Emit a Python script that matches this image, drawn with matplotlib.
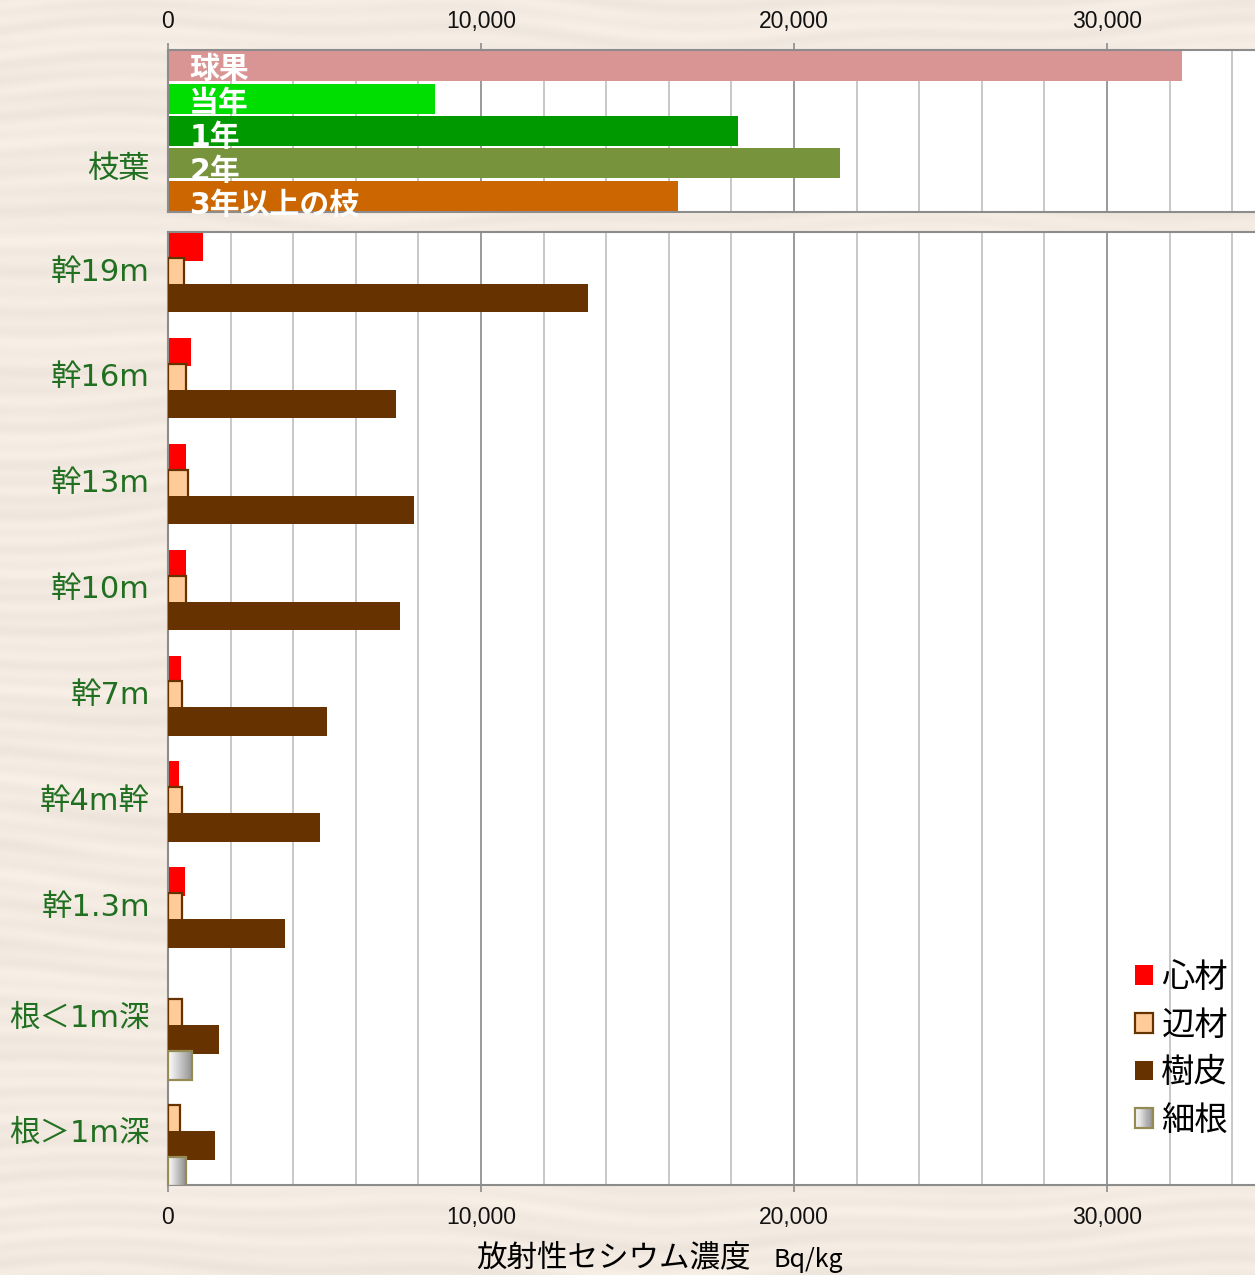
import numpy as np
import matplotlib
matplotlib.use('Agg')
import matplotlib.pyplot as plt
from matplotlib.patches import Rectangle
from matplotlib.colors import LinearSegmentedColormap
from matplotlib.legend_handler import HandlerBase

plt.rcParams['font.family'] = ['Noto Sans CJK JP', 'DejaVu Sans']
mixed_family = ['DejaVu Sans', 'Noto Sans CJK JP']

# --- data (Bq/kg) ---
leaf_labels = ['球果', '当年', '1年', '2年', '3年以上の枝']
leaf_values = [32400, 8530, 18210, 21470, 16290]
leaf_colors = ['#d99594', '#00dd00', '#009900', '#77933c', '#cc6600']

parts = ['幹19m', '幹16m', '幹13m', '幹10m', '幹7m', '幹4m幹', '幹1.3m', '根＜1m深', '根＞1m深']
heartwood = [1110, 720, 575, 575, 405, 340, 530, 0, 0]
sapwood = [510, 575, 640, 575, 450, 450, 450, 460, 395]
bark = [13420, 7280, 7860, 7410, 5070, 4870, 3730, 1620, 1490]
fine_root = [0, 0, 0, 0, 0, 0, 0, 780, 575]
series_names = ['心材', '辺材', '樹皮', '細根']

x_ticks = [0, 10000, 20000, 30000]
x_ticklabels = ['0', '10,000', '20,000', '30,000']

# --- layout ---
W, H = 1255, 1275
XMAX = 35000
x_right = 168 + XMAX * 313 / 10000  # axes run past the right edge of the picture
label_green = '#217021'
spine_gray = '#8c8c8c'
root_cmap = LinearSegmentedColormap.from_list('root', ['#ffffff', '#8e8e8e'])


def px_box(left, top, right, bottom):
    return [left / W, 1 - bottom / H, (right - left) / W, (bottom - top) / H]


fig = plt.figure(figsize=(W / 100, H / 100), dpi=100)

# wood-like background (decoration only)
bg = fig.add_axes([0, 0, 1, 1], zorder=-10)
yy, xx = np.mgrid[0:H, 0:W].astype(float)
warp = 9 * np.sin(xx / 170.0 + yy / 95.0) + 5 * np.sin(xx / 61.0 - yy / 210.0)
grain = (0.45 * np.sin((yy + warp) / 2.9) + 0.35 * np.sin((yy + 1.7 * warp) / 7.3)
         + 0.2 * np.sin((yy - warp) / 17.0))
base = np.array([243, 234, 225]) / 255.0
tex = np.clip(base[None, None, :] + 0.022 * grain[..., None], 0, 1)
bg.imshow(tex, aspect='auto', extent=(0, 1, 0, 1))
bg.axis('off')


def style_axis(ax):
    ax.set_facecolor('white')
    ax.set_xlim(0, XMAX)
    ax.set_xticks(x_ticks)
    ax.set_xticklabels(x_ticklabels, family=['Liberation Sans'], fontsize=16.5, color='#111111')
    ax.set_xticks(np.arange(0, XMAX + 1, 2000), minor=True)
    ax.grid(True, which='minor', axis='x', color='#c8c8c8', lw=1.4, zorder=0)
    ax.grid(True, which='major', axis='x', color='#9a9a9a', lw=1.4, zorder=0)
    ax.set_axisbelow(True)
    ax.tick_params(axis='x', which='major', length=5, width=1.2, color=spine_gray)
    ax.tick_params(axis='x', which='minor', length=0)
    ax.tick_params(axis='y', length=0, pad=13, labelsize=22, labelcolor=label_green)
    for sp in ax.spines.values():
        sp.set_color(spine_gray)
        sp.set_linewidth(1.5)


# --- top panel: 枝葉 ---
ax1 = fig.add_axes(px_box(168, 50, x_right, 212))
style_axis(ax1)
ax1.xaxis.tick_top()
ax1.tick_params(axis='x', which='major', pad=7)
ax1.barh(np.arange(len(leaf_values)), leaf_values, height=0.92, color=leaf_colors, zorder=2)
ax1.set_ylim(len(leaf_values) - 0.5, -0.5)
ax1.set_yticks([3.05])
ax1.set_yticklabels(['枝葉'], fontsize=22.5)
for i, lab in enumerate(leaf_labels):
    ax1.text(680, i + 0.1 + 0.05 * i, lab, color='white', fontsize=21.5, fontweight='bold',
             family=mixed_family, va='center', ha='left', clip_on=False, zorder=5)

# --- bottom panel: 幹・根 ---
ax2 = fig.add_axes(px_box(168, 232, x_right, 1185))
style_axis(ax2)
ax2.tick_params(axis='x', which='major', pad=10)
y = np.arange(len(parts))
slot, bh = 0.245, 0.27


def centers(k):
    return y - 0.5 + 0.135 + k * slot


ax2.barh(centers(0), heartwood, height=bh, color='#ff0000', zorder=2)
ax2.barh(centers(1), sapwood, height=bh, color='#ffcc99', edgecolor='#663300', lw=1.6, zorder=3)
ax2.barh(centers(2), bark, height=bh, color='#663300', zorder=4)
grad = np.linspace(0, 1, 128)[None, :]
for yc, v in zip(centers(3), fine_root):
    if v <= 0:
        continue
    ax2.imshow(grad, cmap=root_cmap, extent=(0, v, yc + bh / 2, yc - bh / 2),
               aspect='auto', interpolation='bilinear', zorder=5)
    ax2.add_patch(Rectangle((0, yc - bh / 2), v, bh, facecolor='none',
                            edgecolor='#948a54', lw=1.6, zorder=6))
ax2.set_xlim(0, XMAX)
ax2.set_ylim(len(parts) - 0.5, -0.5)
label_shift = np.array([-0.15] * 7 + [-0.1, -0.02])
ax2.set_yticks(y + label_shift)
ax2.set_yticklabels(parts, family=mixed_family)


class GradientHandler(HandlerBase):
    def create_artists(self, legend, orig_handle, xdescent, ydescent, width, height, fontsize, trans):
        n = 16
        arts = [Rectangle((-xdescent + j * width / n, -ydescent), width / n + 0.3, height,
                          facecolor=root_cmap(j / (n - 1)), edgecolor='none', transform=trans)
                for j in range(n)]
        arts.append(Rectangle((-xdescent, -ydescent), width, height, facecolor='none',
                              edgecolor='#948a54', lw=1.6, transform=trans))
        return arts


handles = [Rectangle((0, 0), 1, 1, facecolor='#ff0000', edgecolor='none'),
           Rectangle((0, 0), 1, 1, facecolor='#ffcc99', edgecolor='#663300', lw=1.6),
           Rectangle((0, 0), 1, 1, facecolor='#663300', edgecolor='none'),
           Rectangle((0, 0), 1, 1, facecolor='none', edgecolor='none')]
ax2.legend(handles, series_names, loc='upper left',
           bbox_to_anchor=(1135 / W, 1 - 960 / H), bbox_transform=fig.transFigure,
           frameon=False, borderpad=0, borderaxespad=0, fontsize=24,
           handlelength=0.54, handleheight=0.54, handletextpad=0.25, labelspacing=0.38,
           handler_map={handles[3]: GradientHandler()})

# x-axis title
fig.text(476 / W, 1 - 1258 / H, '放射性セシウム濃度', fontsize=22, va='center', ha='left')
fig.text(773 / W, 1 - 1260 / H, 'Bq/kg', fontsize=18, va='center', ha='left')

fig.savefig('out.png', dpi=100)
